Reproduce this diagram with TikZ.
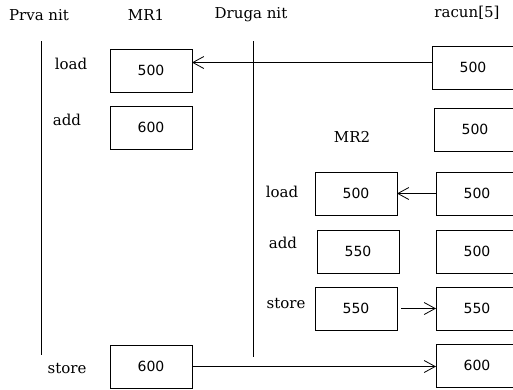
\documentclass[tikz,border=0pt]{standalone}
\usepackage{fontspec}
\setmainfont{DejaVu Serif}
\newfontfamily\numfont{DejaVu Sans}
\usetikzlibrary{arrows.meta, positioning}

\begin{document}
\begin{tikzpicture}[
    x=1pt, y=1pt,
    node distance=14pt and 39pt,
    cell/.style={draw, line width=1pt, minimum width=82pt, minimum height=43pt, inner sep=0pt, outer sep=0pt, font=\numfont\fontsize{14}{16}\selectfont},
    rcell/.style={cell, minimum width=90pt},
    lbl/.style={font=\fontsize{15}{17}\selectfont, inner sep=0pt},
    thread/.style={line width=1pt},
    arrow/.style={-{Straight Barb[length=11pt, width=12pt, line width=0.8pt]}, line width=1pt}
]
\useasboundingbox (0,0) rectangle (513,-389);

% Headers
\node[lbl] (prva) at (39,-15) {Prva nit};
\node[lbl] (mr1) at (146,-15) {MR1};
\node[lbl] (druga) at (251,-15) {Druga nit};
\node[lbl] (racun) at (467,-13) {racun[5]};
\node[lbl] (mr2) at (352,-137) {MR2};

% Threads
\coordinate (t1top) at (41,-41);
\coordinate (t1bot) at (41,-355);
\coordinate (t2top) at (253,-41);
\coordinate (t2bot) at (253,-357);
\draw[thread] (t1top) -- (t1bot);
\draw[thread] (t2top) -- (t2bot);

% MR1
\node[cell] (m1load) at (151,-70.5) {500};
\node[cell, below=of m1load] (m1add) {600};
\node[cell] (m1store) at (151,-366.5) {600};

% racun[5]
\node[rcell] (r1) at (477,-67.5) {\hspace*{-8pt}500};
\node[rcell, below=19pt of r1, xshift=2pt] (r2) {\hspace*{-8pt}500};
\node[rcell, below=21pt of r2, xshift=2pt] (r3) {\hspace*{-8pt}500};
\node[rcell, below=15pt of r3] (r4) {\hspace*{-8pt}500};
\node[rcell, below=of r4] (r5) {\hspace*{-8pt}550};
\node[rcell, below=of r5] (r6) {\hspace*{-8pt}600};

% MR2
\node[cell, left=of r3] (m2load) {500};
\node[cell, below=15pt of m2load, xshift=2pt] (m2add) {550};
\node[cell, below=of m2add, xshift=-2pt] (m2store) {550};

% Instructions
\node[lbl] (ld1) at (71,-64) {load};
\node[lbl] (ad1) at (67,-120) {add};
\node[lbl] (st1) at (67,-368) {store};
\node[lbl] (ld2) at (282,-192) {load};
\node[lbl] (ad2) at (283,-243) {add};
\node[lbl] (st2) at (286,-303) {store};

% Arrows
\draw[arrow] ([yshift=5pt]r1.west) -- ([yshift=5pt]r1.west -| m1load.east);
\draw[arrow] (r3.west) -- (r3.west -| m2load.east);
\draw[arrow] ([xshift=4pt]m2store.east) -- (m2store.east -| r5.west);
\draw[arrow] (m1store.east) -- (m1store.east -| r6.west);

\end{tikzpicture}
\end{document}
